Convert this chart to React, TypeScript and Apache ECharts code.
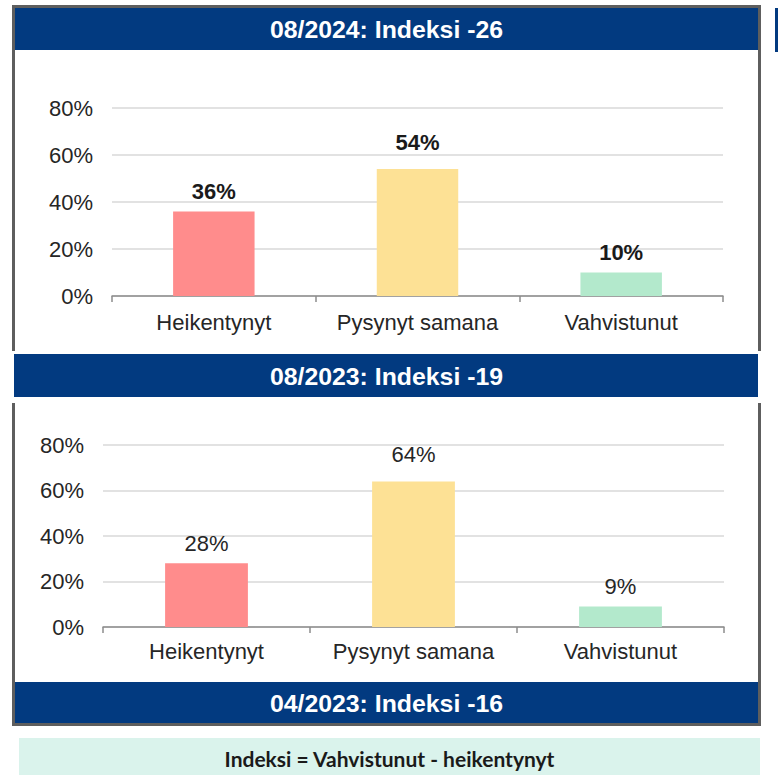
import React, { useEffect, useRef } from "react";
import * as echarts from "echarts";

const categories = ["Heikentynyt", "Pysynyt samana", "Vahvistunut"];
const values2024 = [36, 54, 10];
const values2023 = [28, 64, 9];
const yMax = 80;
const yInterval = 20;
const headers = ["08/2024: Indeksi -26", "08/2023: Indeksi -19", "04/2023: Indeksi -16"];
const footnote = "Indeksi = Vahvistunut - heikentynyt";

const barColors = ["#FF8C8C", "#FDE195", "#B3E9CC"];
const labelDistances = [9, 16, 9];
const BLUE = "#023A80";
const FONT = "'Liberation Sans', Arial, sans-serif";

export default function App() {
  const ref = useRef<HTMLDivElement>(null);
  useEffect(() => {
    if (!ref.current) return;
    const chart = echarts.init(ref.current, null, { renderer: "svg" });

    const xAxisCommon = (labelMargin: number) => ({
      type: "category" as const,
      data: categories,
      axisLine: { lineStyle: { color: "#8C8C8C", width: 1.5 } },
      axisTick: { show: true, length: 6, lineStyle: { color: "#8C8C8C", width: 1.5 } },
      axisLabel: { color: "#262626", fontSize: 22, fontFamily: FONT, margin: labelMargin, interval: 0 },
    });
    const yAxisCommon = {
      type: "value" as const,
      min: 0,
      max: yMax,
      interval: yInterval,
      axisLine: { show: false },
      axisTick: { show: false },
      splitLine: { lineStyle: { color: "#D9D9D9", width: 1.5 } },
      axisLabel: { color: "#262626", fontSize: 22, fontFamily: FONT, margin: 19, formatter: "{value}%" },
    };

    const headerRects = [
      { x: 15, y: 8, w: 743, h: 42 },
      { x: 14, y: 354, w: 744, h: 43 },
      { x: 15, y: 682, w: 743, h: 41 },
    ];

    const graphic: any[] = [
      {
        type: "rect",
        shape: { x: 13.5, y: 6.5, width: 746, height: 718 },
        style: { fill: "none", stroke: "#5E5E5E", lineWidth: 3 },
        z: 1,
      },
      {
        type: "rect",
        shape: { x: 10, y: 351, width: 752, height: 52 },
        style: { fill: "#FFFFFF" },
        z: 2,
      },
      ...headerRects.map((r) => ({
        type: "rect",
        shape: { x: r.x, y: r.y, width: r.w, height: r.h },
        style: { fill: BLUE },
        z: 3,
      })),
      ...headerRects.map((r, i) => ({
        type: "text",
        x: 386.5,
        y: r.y + r.h / 2 + 1,
        scaleX: 1.08,
        style: {
          text: headers[i],
          fill: "#FFFFFF",
          font: `bold 23px ${FONT}`,
          textAlign: "center",
          textVerticalAlign: "middle",
        },
        z: 4,
      })),
      {
        type: "rect",
        shape: { x: 775, y: 8, width: 3, height: 44 },
        style: { fill: BLUE },
        z: 3,
      },
      {
        type: "rect",
        shape: { x: 19, y: 738, width: 741, height: 37 },
        style: { fill: "#DAF3EC" },
        z: 3,
      },
      {
        type: "text",
        x: 389.5,
        y: 758,
        style: {
          text: footnote,
          fill: "#1A1A1A",
          font: `bold 21px Lato, 'Open Sans', sans-serif`,
          textAlign: "center",
          textVerticalAlign: "middle",
        },
        z: 4,
      },
    ];

    const withDistances = (vals: number[]) =>
      vals.map((v, i) => ({ value: v, label: { distance: labelDistances[i] } }));

    chart.setOption({
      animation: false,
      backgroundColor: "#FFFFFF",
      color: barColors,
      textStyle: { fontFamily: FONT },
      graphic,
      grid: [
        { left: 112, right: 55, top: 108, height: 188, containLabel: false },
        { left: 103, right: 54, top: 445, height: 182, containLabel: false },
      ],
      xAxis: [
        { ...xAxisCommon(15), gridIndex: 0 },
        { ...xAxisCommon(13), gridIndex: 1 },
      ],
      yAxis: [
        { ...yAxisCommon, gridIndex: 0 },
        { ...yAxisCommon, gridIndex: 1 },
      ],
      series: [
        {
          type: "bar",
          xAxisIndex: 0,
          yAxisIndex: 0,
          data: withDistances(values2024),
          colorBy: "data",
          barWidth: "40%",
          label: {
            show: true,
            position: "top",
            formatter: "{c}%",
            fontSize: 22,
            fontWeight: "bold",
            color: "#1A1A1A",
            fontFamily: FONT,
          },
        },
        {
          type: "bar",
          xAxisIndex: 1,
          yAxisIndex: 1,
          data: withDistances(values2023),
          colorBy: "data",
          barWidth: "40%",
          label: {
            show: true,
            position: "top",
            formatter: "{c}%",
            fontSize: 22,
            color: "#262626",
            fontFamily: FONT,
          },
        },
      ],
    });
    return () => chart.dispose();
  }, []);

  return (
    <div
      ref={ref}
      style={{ position: "absolute", left: 0, top: 0, width: 778, height: 775, background: "#fff" }}
    />
  );
}
